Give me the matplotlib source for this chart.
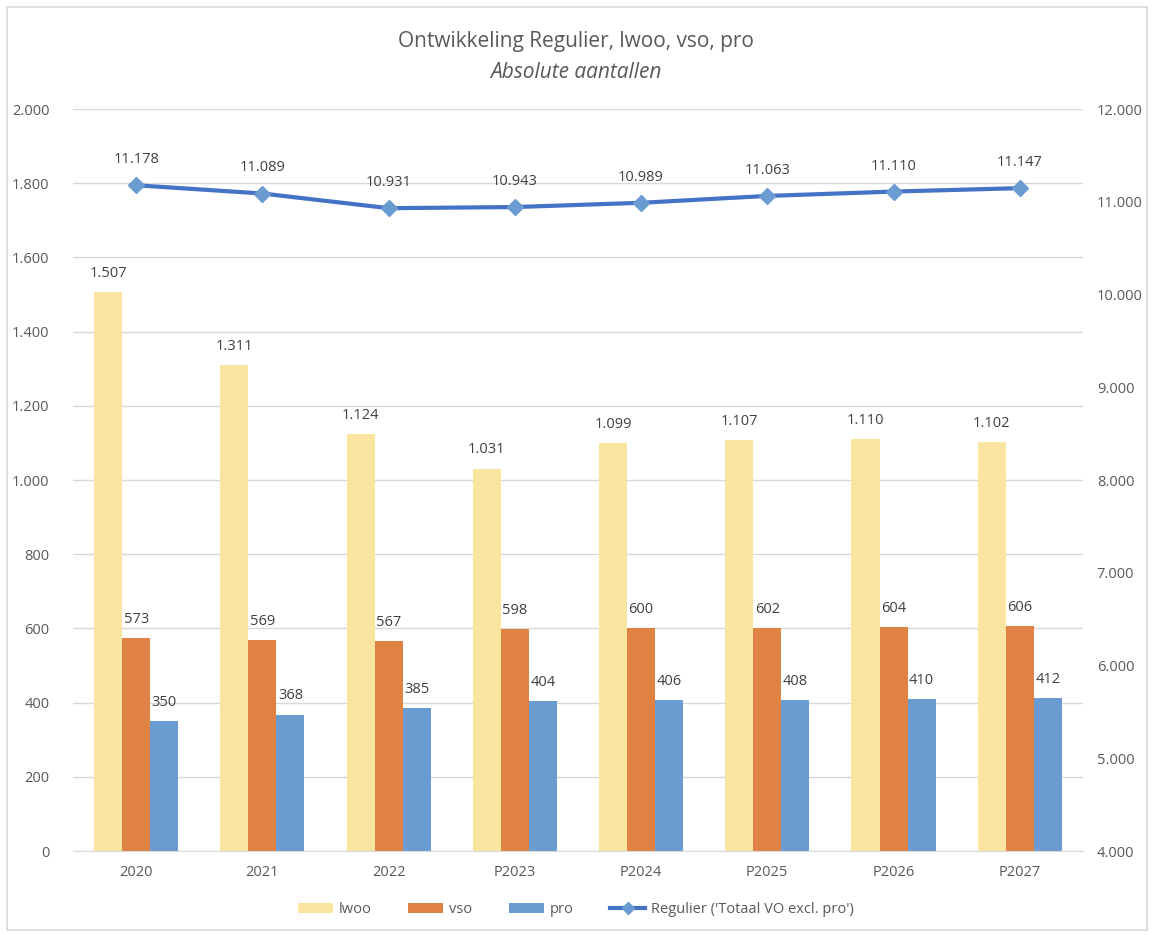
import matplotlib.pyplot as plt
from matplotlib.patches import Rectangle
from matplotlib.ticker import FuncFormatter
import numpy as np

plt.rcParams['font.family'] = ['Open Sans', 'DejaVu Sans']

years = ['2020', '2021', '2022', 'P2023', 'P2024', 'P2025', 'P2026', 'P2027']
lwoo = [1507, 1311, 1124, 1031, 1099, 1107, 1110, 1102]
vso = [573, 569, 567, 598, 600, 602, 604, 606]
pro = [350, 368, 385, 404, 406, 408, 410, 412]
regulier = [11178, 11089, 10931, 10943, 10989, 11063, 11110, 11147]

txt = '#595959'
c_lwoo = '#F9E4A0'
c_vso = '#DF8244'
c_pro = '#6A9BD1'
c_line = '#4472C4'
c_mark = '#6A9BD1'

def nl(v, pos=None):
    return f'{int(round(v)):,}'.replace(',', '.')

fig = plt.figure(figsize=(11.52, 9.35), dpi=100)
ax = fig.add_axes([0.0634, 0.0898, 0.8766, 0.7936])
ax2 = ax.twinx()

x = np.arange(len(years))
w = 0.222
b1 = ax.bar(x - w, lwoo, w, color=c_lwoo, label='lwoo')
b2 = ax.bar(x, vso, w, color=c_vso, label='vso')
b3 = ax.bar(x + w, pro, w, color=c_pro, label='pro')

for bars in (b1, b2, b3):
    for r in bars:
        ax.annotate(nl(r.get_height()), (r.get_x() + r.get_width() / 2, r.get_height()),
                    xytext=(0, 8), textcoords='offset points', ha='center', va='bottom',
                    fontsize=10.5, color='#404040')

ln, = ax2.plot(x, regulier, color=c_line, lw=3, marker='D', markersize=8,
               markerfacecolor=c_mark, markeredgecolor=c_mark,
               label="Regulier ('Totaal VO excl. pro')")
for xi, v in zip(x, regulier):
    ax2.annotate(nl(v), (xi, v), xytext=(0, 13), textcoords='offset points',
                 ha='center', va='bottom', fontsize=10.5, color='#404040')

ax.set_xlim(-0.5, len(years) - 0.5)
ax.set_ylim(0, 2000)
ax.set_yticks(range(0, 2001, 200))
ax2.set_ylim(4000, 12000)
ax2.set_yticks(range(4000, 12001, 1000))
ax.yaxis.set_major_formatter(FuncFormatter(nl))
ax2.yaxis.set_major_formatter(FuncFormatter(nl))
ax.set_xticks(x)
ax.set_xticklabels(years)

ax.set_axisbelow(True)
ax.grid(axis='y', color='#D9D9D9', lw=1)
for a in (ax, ax2):
    for s in a.spines.values():
        s.set_visible(False)
    a.tick_params(length=0, labelsize=10.5, colors=txt)
ax.spines['bottom'].set_visible(True)
ax.spines['bottom'].set_color('#D9D9D9')
ax.tick_params(axis='y', pad=17)
ax2.tick_params(axis='y', pad=10)
ax.tick_params(axis='x', pad=10)

fig.text(0.5, 0.956, 'Ontwikkeling Regulier, lwoo, vso, pro', ha='center', va='center',
         fontsize=15, color=txt)
fig.text(0.5, 0.922, 'Absolute aantallen', ha='center', va='center',
         fontsize=15, color=txt, style='italic')

fig.legend(handles=[b1, b2, b3, ln], loc='center', bbox_to_anchor=(0.5, 0.027), ncol=4,
           frameon=False, fontsize=10.5, labelcolor=txt, handlelength=2.4,
           handleheight=0.6, columnspacing=2.5, handletextpad=0.4, markerscale=0.75)

fig.patches.append(Rectangle((0.006, 0.005), 0.99, 0.987, transform=fig.transFigure,
                             fill=False, edgecolor='#D9D9D9', lw=1.2))

fig.savefig('out.png', dpi=100)
